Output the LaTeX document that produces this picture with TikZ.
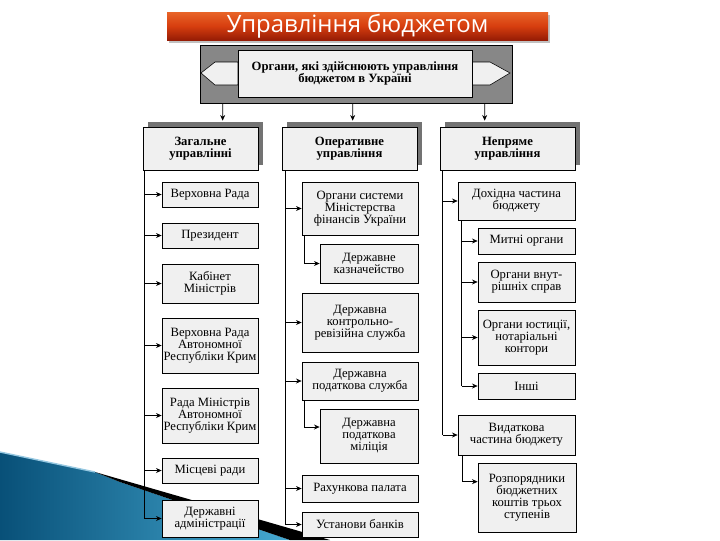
\documentclass[tikz,border=0pt]{standalone}
\usepackage{fontspec}
\setmainfont{Liberation Serif}
\newfontfamily\titlefont{Open Sans}
\usetikzlibrary{arrows.meta,calc,shadows}

\definecolor{swdark}{RGB}{8,80,120}
\definecolor{swlight}{RGB}{70,170,210}
\definecolor{swfringe}{RGB}{150,200,225}
\definecolor{bartop}{RGB}{232,100,40}
\definecolor{barmid}{RGB}{215,62,15}
\definecolor{barbot}{RGB}{150,28,5}

\tikzset{
  corners/.style n args={4}{at={({(#1+#3)/2},{(#2+#4)/2})},
    minimum width={(#3-#1)*0.025cm}, minimum height={(#4-#2)*0.025cm}},
  box/.style={draw=black, fill=black!6, inner sep=0pt, align=center, line width=0.5pt,
    font=\fontsize{9}{8.5}\selectfont},
  catbox/.style={box, font=\fontsize{9}{8.5}\selectfont\bfseries,
    drop shadow={shadow xshift=0.12cm, shadow yshift=0.12cm, fill=black!55, opacity=1}},
  arr/.style={-{Stealth[length=4pt,width=3.5pt]}, line width=0.5pt},
}

\begin{document}
\begin{tikzpicture}[x=0.025cm, y=-0.025cm]
  % page
  \fill[white] (0,0) rectangle (720,540);
  \useasboundingbox (0,0) rectangle (720,540);

  % swoosh in the lower left corner
  \shade[left color=swdark, right color=swlight] (0,452) -- (95,472) -- (120,482) -- (290,540) -- (0,540) -- cycle;
  \draw[swfringe, line width=1pt] (0,452) -- (95,472);
  \fill[black] (95,472) -- (330,540) -- (290,540) -- (120,482) -- cycle;

  % title
  \node[corners={167}{12}{548}{40}, inner sep=0pt, top color=bartop, bottom color=barbot, middle color=barmid,
    drop shadow={shadow xshift=0.05cm, shadow yshift=-0.08cm, fill=black!40, opacity=0.6},
    text=white, font=\titlefont\fontsize{17}{17}\selectfont] (title) {Управління бюджетом};

  % top frame with the two arrows
  \node[draw, fill=black!47, corners={200}{45}{512}{103}, inner sep=0pt] (frame) {};
  \draw[fill=black!6] (238,62) -- (215,62) -- (201,73) -- (215,85) -- (238,85) -- cycle;
  \draw[fill=black!6] (472,62) -- (490,62) -- (510,73) -- (490,85) -- (472,85) -- cycle;
  \node[box, font=\fontsize{9}{9}\selectfont\bfseries, corners={238}{50}{472}{97}] (organy)
    {Органи, які здійснюють управління\\бюджетом в Україні};

  % three kinds of management
  \node[catbox, corners={143}{127}{258}{170}] (zahal) {Загальне\\управлінні};
  \node[catbox, corners={282}{127}{417}{170}] (operat) {Оперативне\\управління};
  \node[catbox, corners={440}{127}{575}{170}] (nepr) {Непряме\\управління};

  \draw[arr] ($(frame.south west)+(23,0)$) -- ($(zahal.north west)+(80,-6)$);
  \draw[arr] ($(frame.south west)+(153,0)$) -- ($(operat.north west)+(71,-6)$);
  \draw[arr] ($(frame.south west)+(285,0)$) -- ($(nepr.north west)+(45,-6)$);

  % general management
  \node[box, corners={162}{182}{258}{207}] (vrada) {Верховна Рада};
  \node[box, corners={162}{223}{258}{248}] (prez) {Президент};
  \node[box, corners={162}{264}{258}{303}] (kabmin) {Кабінет\\Міністрів};
  \node[box, corners={162}{318}{258}{373}] (vrark) {Верховна Рада\\Автономної\\Республіки Крим};
  \node[box, corners={162}{388}{258}{443}] (rmark) {Рада Міністрів\\Автономної\\Республіки Крим};
  \node[box, corners={162}{458}{258}{483}] (misrady) {Місцеві ради};
  \node[box, corners={162}{500}{258}{537}] (derzhadm) {Державні\\адміністрації};

  \coordinate (lsp) at ($(zahal.south west)+(2,0)$);
  \draw (lsp) -- (lsp |- derzhadm.west);
  \foreach \n in {vrada,prez,kabmin,vrark,rmark,misrady,derzhadm}
    \draw[arr] (lsp |- \n.west) -- (\n.west);

  % operative management
  \node[box, corners={302}{182}{418}{235}] (minfin) {Органи системи\\Міністерства\\фінансів України};
  \node[box, corners={320}{244}{418}{283}] (kazn) {Державне\\казначейство};
  \node[box, corners={302}{293}{418}{352}] (kru) {Державна\\контрольно-\\ревізійна служба};
  \node[box, corners={302}{362}{418}{400}] (dps) {Державна\\податкова служба};
  \node[box, corners={320}{409}{418}{463}] (podmil) {Державна\\податкова\\міліція};
  \node[box, corners={302}{475}{418}{502}] (rakhpal) {Рахункова палата};
  \node[box, corners={302}{512}{418}{537}] (banky) {Установи банків};

  \coordinate (msp) at ($(operat.south west)+(4,0)$);
  \draw (msp) -- (msp |- banky.west);
  \foreach \n in {minfin,kru,dps,rakhpal,banky}
    \draw[arr] (msp |- \n.west) -- (\n.west);
  \draw[arr] ($(minfin.south west)+(3,0)$) |- (kazn.west);
  \draw[arr] ($(dps.south west)+(3,0)$) |- ($(podmil.west)+(0,-9)$);

  % indirect management
  \node[box, corners={458}{182}{575}{220}] (dokhid) {Дохідна частина\\бюджету};
  \node[box, corners={478}{228}{575}{254}] (mytni) {Митні органи};
  \node[box, corners={478}{262}{575}{302}] (mvs) {Органи внут-\\рішніх справ};
  \node[box, corners={478}{310}{575}{365}] (yust) {Органи юстиції,\\нотаріальні\\контори};
  \node[box, corners={478}{373}{575}{399}] (inshi) {Інші};
  \node[box, corners={458}{415}{575}{455}] (vydat) {Видаткова\\частина бюджету};
  \node[box, corners={478}{463}{576}{532}] (rozpor) {Розпорядники\\бюджетних\\коштів трьох\\ступенів};

  \coordinate (rsp) at ($(nepr.south west)+(3,0)$);
  \draw (rsp) -- (rsp |- vydat.west);
  \foreach \n in {dokhid,vydat}
    \draw[arr] (rsp |- \n.west) -- (\n.west);
  \coordinate (dsp) at ($(dokhid.south west)+(4,0)$);
  \draw (dsp) -- (dsp |- inshi.west);
  \foreach \n in {mytni,mvs,yust,inshi}
    \draw[arr] (dsp |- \n.west) -- (\n.west);
  \draw[arr] ($(vydat.south west)+(5,0)$) |- ($(rozpor.north west)+(0,19)$);
\end{tikzpicture}
\end{document}
